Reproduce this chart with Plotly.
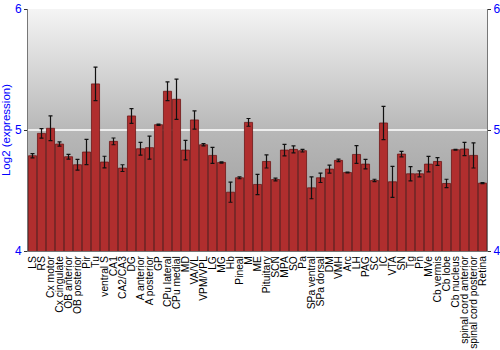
import base64
import plotly.graph_objects as go

categories = ["LS", "RS", "Cx motor", "Cx cingulate", "OB anterior", "OB posterior", "Pir", "Tu",
              "ventral S", "CA1", "CA2/CA3", "DG", "A anterior", "A posterior", "GP", "CPu lateral",
              "CPu medial", "MD", "VA/VL", "VPM/VPL", "LG", "MG", "Hb", "Pineal", "M", "ME",
              "Pituitary", "SCN", "MPA", "SO", "Pa", "SPa ventral", "SPa dorsal", "DM", "VMH", "Arc",
              "LH", "PAG", "SC", "IC", "VTA", "SN", "Tg", "Pn", "MVe", "Cb vermis", "Cb lobe",
              "Cb nucleus", "spinal cord anterior", "spinal cord posterior", "Retina"]
values = [4.787, 4.972, 5.014, 4.884, 4.779, 4.713, 4.818, 5.381,
          4.735, 4.906, 4.685, 5.116, 4.845, 4.854, 5.044, 5.320,
          5.254, 4.834, 5.083, 4.878, 4.790, 4.732, 4.486, 4.605, 5.063, 4.550,
          4.740, 4.591, 4.834, 4.840, 4.829, 4.522, 4.605, 4.677, 4.749, 4.649,
          4.798, 4.718, 4.583, 5.058, 4.572, 4.801, 4.638, 4.638, 4.718, 4.740, 4.558,
          4.837, 4.843, 4.790, 4.561]
errors = [0.017, 0.039, 0.102, 0.018, 0.019, 0.044, 0.104, 0.138,
          0.048, 0.028, 0.028, 0.061, 0.052, 0.095, 0.005, 0.077,
          0.166, 0.081, 0.075, 0.010, 0.066, 0.005, 0.083, 0.008, 0.032, 0.084,
          0.054, 0.011, 0.048, 0.029, 0.011, 0.090, 0.039, 0.033, 0.011, 0.004,
          0.073, 0.039, 0.010, 0.137, 0.128, 0.023, 0.059, 0.025, 0.064, 0.032, 0.035,
          0.004, 0.055, 0.104, 0.004]
y_ticks = [4, 5, 6]

svg = ('<svg xmlns="http://www.w3.org/2000/svg" width="100" height="100" preserveAspectRatio="none">'
       '<defs><linearGradient id="g" x1="0" y1="0" x2="0" y2="1">'
       '<stop offset="0" stop-color="#f4f4f4"/><stop offset="0.5" stop-color="#b8b8b8"/>'
       '<stop offset="1" stop-color="#959595"/></linearGradient></defs>'
       '<rect width="100" height="100" fill="url(#g)"/></svg>')
bg_src = "data:image/svg+xml;base64," + base64.b64encode(svg.encode()).decode()

fig = go.Figure()
fig.add_trace(go.Bar(
    x=categories, y=values,
    marker=dict(color="#b02e2e", line=dict(color="#6e1515", width=0.8)),
    error_y=dict(type="data", array=errors, color="#111111", thickness=1.2, width=2),
))
fig.add_trace(go.Bar(x=categories, y=values, yaxis="y2", marker=dict(opacity=0),
                     hoverinfo="skip", showlegend=False))

fig.update_layout(
    width=500, height=350,
    margin=dict(l=28, r=13, t=9, b=99),
    paper_bgcolor="white", plot_bgcolor="rgba(0,0,0,0)",
    showlegend=False, bargap=0.1, barmode="overlay",
    font=dict(family="Liberation Sans, Arial, sans-serif", size=11, color="black"),
    images=[dict(source=bg_src, xref="paper", yref="paper", x=0, y=1, sizex=1, sizey=1,
                 sizing="stretch", layer="below")],
    xaxis=dict(tickangle=-90, tickfont=dict(size=10.3, color="black"), showgrid=False,
               range=[-0.5, len(categories) - 0.5], tickmode="linear", dtick=1,
               showline=True, linecolor="#777777", mirror=False, ticks="", automargin=False),
    yaxis=dict(range=[4, 6], tickvals=y_ticks, ticktext=[str(t) for t in y_ticks],
               tickfont=dict(size=12, color="blue"), ticks="outside", ticklen=3,
               tickcolor="#333333", showline=True, linecolor="#777777", mirror=True,
               showgrid=True, gridcolor="#eeeeee", gridwidth=1.5, zeroline=False,
               title=dict(text="Log2 (expression)", font=dict(size=11.5, color="blue"), standoff=5),
               automargin=False),
    yaxis2=dict(range=[4, 6], tickvals=y_ticks, ticktext=[str(t) for t in y_ticks],
                overlaying="y", side="right", tickfont=dict(size=12, color="blue"),
                ticks="outside", ticklen=3, tickcolor="#333333", showgrid=False,
                zeroline=False, showline=False, automargin=False),
)
fig.write_html("out.html")
